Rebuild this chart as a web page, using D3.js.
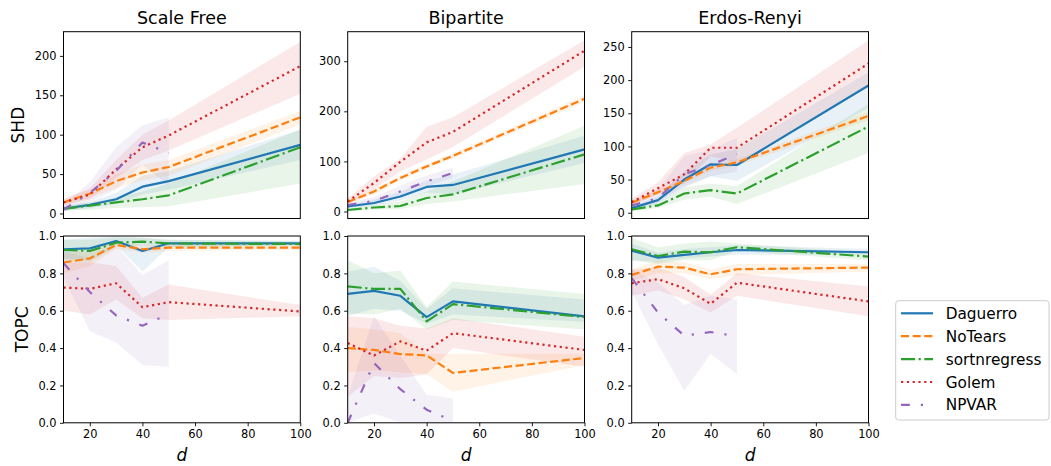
<!DOCTYPE html>
<html><head><meta charset="utf-8">
<script src="https://cdn.jsdelivr.net/npm/d3@7"></script>
<style>body{margin:0;background:#fff} svg{display:block} text{font-family:"DejaVu Sans",sans-serif;fill:#000}</style>
</head><body><svg id="chart" width="1051" height="466"></svg>
<script>
// ---------- data ----------
const dValues = [10, 20, 30, 40, 50, 100];
const dValuesNpvar = [10, 20, 30, 40, 50];
const methods = ["Daguerro", "NoTears", "sortnregress", "Golem", "NPVAR"];
const graphTypes = ["Scale Free", "Bipartite", "Erdos-Renyi"];
const metrics = ["SHD", "TOPC"];
const xTicks = [20, 40, 60, 80, 100];
const shdTicksSF = [0, 50, 100, 150, 200];
const shdTicksBP = [0, 100, 200, 300];
const shdTicksER = [0, 50, 100, 150, 200, 250];
const topcTicks = [0.0, 0.2, 0.4, 0.6, 0.8, 1.0];
const shdLimitsSF = [-6.4, 230.7];
const shdLimitsBP = [-14, 359];
const shdLimitsER = [-8.7, 273];
const topcLimits = [0, 1];
const dLimits = [10, 100];

// Scale Free SHD (rows follow `methods`)
const sfShdMean = [[6,11,18,34,41,87],[14,25,41,52,59,122],[6,10,14,18,23,84],[14,24,56,84,99,187],[5,26,54,90,77]];
const sfShdLo   = [[3,7,12,24,30,68],[10,20,32,42,48,113],[3,5,7,8,9,38],[10,18,45,68,80,152],[2,15,30,62,35]];
const sfShdHi   = [[9,15,26,48,54,106],[18,30,50,62,68,130],[9,14,20,28,38,107],[18,32,68,100,118,218],[10,40,84,112,122]];
// Bipartite SHD
const bpShdMean = [[10,17,30,49,53,124],[19,40,67,90,111,225],[3,8,11,27,34,114],[20,57,99,138,159,321],[13,21,40,60,77]];
const bpShdLo   = [[6,12,22,38,34,97],[15,35,62,85,106,218],[1,4,5,15,20,55],[15,45,80,104,129,289],[8,15,30,50,68]];
const bpShdHi   = [[14,24,40,62,74,151],[23,45,72,95,116,232],[6,14,20,40,60,171],[26,70,106,169,188,342],[18,28,52,72,88]];
// Erdos-Renyi SHD
const erShdMean = [[7,19,50,73,72,192],[15,31,48,68,76,146],[5,11,29,34,29,130],[16,37,58,98,98,225],[11,22,58,72,88]];
const erShdLo   = [[4,14,38,55,48,158],[11,27,44,63,71,140],[2,7,20,24,13,90],[11,28,45,85,75,190],[6,15,40,55,62]];
const erShdHi   = [[10,25,62,88,96,212],[19,35,52,73,81,152],[8,15,38,44,40,164],[21,46,90,103,128,260],[16,35,85,95,113]];
// Scale Free TOPC
const sfTopcMean = [[0.929,0.934,0.973,0.92,0.961,0.961],[0.858,0.88,0.952,0.929,0.938,0.938],[0.925,0.92,0.964,0.97,0.96,0.957],[0.724,0.717,0.747,0.619,0.646,0.596],[0.854,0.70,0.575,0.52,0.582]];
const sfTopcLo   = [[0.88,0.87,0.95,0.81,0.94,0.95],[0.80,0.84,0.93,0.91,0.92,0.925],[0.87,0.86,0.94,0.95,0.94,0.945],[0.60,0.58,0.66,0.56,0.55,0.57],[0.78,0.49,0.43,0.31,0.30]];
const sfTopcHi   = [[0.98,0.99,1.0,0.99,0.98,0.975],[0.91,0.92,0.97,0.95,0.955,0.95],[0.98,0.98,0.99,0.99,0.98,0.97],[0.86,0.86,0.84,0.67,0.74,0.63],[0.92,0.88,0.95,0.79,0.87]];
// Bipartite TOPC
const bpTopcMean = [[0.69,0.706,0.68,0.566,0.65,0.57],[0.40,0.39,0.368,0.361,0.267,0.347],[0.73,0.717,0.717,0.543,0.635,0.566],[0.427,0.36,0.436,0.386,0.48,0.39],[0.0,0.32,0.18,0.07,0.01]];
const bpTopcLo   = [[0.57,0.61,0.60,0.53,0.58,0.54],[0.27,0.28,0.27,0.26,0.166,0.31],[0.585,0.58,0.61,0.50,0.55,0.50],[0.14,0.25,0.24,0.26,0.40,0.30],[0.0,0.05,0.0,0.0,0.0]];
const bpTopcHi   = [[0.81,0.836,0.76,0.61,0.72,0.66],[0.514,0.50,0.48,0.37,0.37,0.37],[0.87,0.80,0.815,0.62,0.756,0.69],[0.57,0.56,0.52,0.505,0.56,0.46],[0.14,0.57,0.36,0.15,0.13]];
// Erdos-Renyi TOPC
const erTopcMean = [[0.922,0.884,0.899,0.913,0.925,0.913],[0.792,0.836,0.831,0.795,0.822,0.831],[0.929,0.893,0.916,0.913,0.94,0.89],[0.747,0.769,0.72,0.637,0.75,0.65],[0.774,0.59,0.466,0.486,0.463]];
const erTopcLo   = [[0.87,0.86,0.88,0.89,0.90,0.90],[0.76,0.80,0.80,0.77,0.79,0.81],[0.87,0.85,0.87,0.87,0.92,0.87],[0.68,0.71,0.66,0.59,0.68,0.57],[0.70,0.42,0.17,0.37,0.26]];
const erTopcHi   = [[0.96,0.91,0.93,0.94,0.95,0.93],[0.82,0.87,0.86,0.82,0.85,0.85],[0.99,0.94,0.96,0.97,0.96,0.91],[0.82,0.83,0.78,0.685,0.80,0.73],[0.82,0.75,0.63,0.68,0.66]];

// ---------- styles ----------
const colors = ["#1f77b4", "#ff7f0e", "#2ca02c", "#d62728", "#9467bd"];
const dashes = [null, "8.1,3.5", "14.1,3.5,2.2,3.5", "2.2,3.6", "8.8,11,2.2,11"];
const LW = 2.2;

const panels = [
  {row:0,col:0,mean:sfShdMean,lo:sfShdLo,hi:sfShdHi,lim:shdLimitsSF,ticks:shdTicksSF,fmt:d3.format("d")},
  {row:0,col:1,mean:bpShdMean,lo:bpShdLo,hi:bpShdHi,lim:shdLimitsBP,ticks:shdTicksBP,fmt:d3.format("d")},
  {row:0,col:2,mean:erShdMean,lo:erShdLo,hi:erShdHi,lim:shdLimitsER,ticks:shdTicksER,fmt:d3.format("d")},
  {row:1,col:0,mean:sfTopcMean,lo:sfTopcLo,hi:sfTopcHi,lim:topcLimits,ticks:topcTicks,fmt:d3.format(".1f")},
  {row:1,col:1,mean:bpTopcMean,lo:bpTopcLo,hi:bpTopcHi,lim:topcLimits,ticks:topcTicks,fmt:d3.format(".1f")},
  {row:1,col:2,mean:erTopcMean,lo:erTopcLo,hi:erTopcHi,lim:topcLimits,ticks:topcTicks,fmt:d3.format(".1f")}
];

const colLeft = [63.5, 347.7, 631.7];
const panelW = 236.8;
const rowTop = [31.7, 236.0];
const panelH = 186.8;
const tickFont = 11.4;

const svg = d3.select("#chart");
const defs = svg.append("defs");

panels.forEach((p, i) => {
  const x0 = colLeft[p.col], y0 = rowTop[p.row];
  const x = d3.scaleLinear().domain(dLimits).range([x0, x0 + panelW]);
  const y = d3.scaleLinear().domain(p.lim).range([y0 + panelH, y0]);
  const cid = "clip" + i;
  defs.append("clipPath").attr("id", cid).append("rect")
    .attr("x", x0).attr("y", y0).attr("width", panelW).attr("height", panelH);
  const g = svg.append("g");
  const plot = g.append("g").attr("clip-path", `url(#${cid})`);

  const series = methods.map((m, k) => {
    const ds = k === 4 ? dValuesNpvar : dValues;
    return ds.map((d, j) => ({d, v: p.mean[k][j], lo: p.lo[k][j], hi: p.hi[k][j]}));
  });
  const area = d3.area().x(d => x(d.d)).y0(d => y(d.lo)).y1(d => y(d.hi));
  const line = d3.line().x(d => x(d.d)).y(d => y(d.v));
  series.forEach((s, k) => {
    plot.append("path").attr("d", area(s)).attr("fill", colors[k]).attr("fill-opacity", 0.1).attr("stroke", "none");
  });
  series.forEach((s, k) => {
    const path = plot.append("path").attr("d", line(s)).attr("fill", "none")
      .attr("stroke", colors[k]).attr("stroke-width", LW).attr("stroke-linejoin", "round");
    if (dashes[k]) path.attr("stroke-dasharray", dashes[k]).attr("stroke-linecap", "butt");
  });

  // y axis
  const yAxis = d3.axisLeft(y).tickValues(p.ticks).tickFormat(p.fmt).tickSize(3.5).tickPadding(3.5);
  const ya = g.append("g").attr("transform", `translate(${x0},0)`).call(yAxis);
  ya.select(".domain").remove();
  ya.selectAll("line").attr("stroke", "#000").attr("stroke-width", 0.9);
  ya.selectAll("text").attr("font-size", tickFont).attr("font-family", "DejaVu Sans").attr("fill", "#000");

  if (p.row === 1) {
    const xAxis = d3.axisBottom(x).tickValues(xTicks).tickFormat(d3.format("d")).tickSize(3.5).tickPadding(3.5);
    const xa = g.append("g").attr("transform", `translate(0,${y0 + panelH})`).call(xAxis);
    xa.select(".domain").remove();
    xa.selectAll("line").attr("stroke", "#000").attr("stroke-width", 0.9);
    xa.selectAll("text").attr("font-size", tickFont).attr("font-family", "DejaVu Sans").attr("fill", "#000");
    g.append("text").attr("x", x0 + panelW / 2).attr("y", 461).attr("text-anchor", "middle")
      .attr("font-size", 17).attr("font-style", "italic").text("d");
  } else {
    g.append("text").attr("x", x0 + panelW / 2).attr("y", 24).attr("text-anchor", "middle")
      .attr("font-size", 17.5).text(graphTypes[p.col]);
  }
  if (p.col === 0) {
    const bb = ya.node().getBBox();
    const cx = x0 + bb.x - 10.5, cy = y0 + panelH / 2;
    g.append("text").attr("transform", `translate(${cx},${cy}) rotate(-90)`)
      .attr("text-anchor", "middle").attr("font-size", 17).text(metrics[p.row]);
  }
  // frame
  g.append("rect").attr("x", x0).attr("y", y0).attr("width", panelW).attr("height", panelH)
    .attr("fill", "none").attr("stroke", "#000").attr("stroke-width", 1);
});

// ---------- legend ----------
const lg = svg.append("g");
lg.append("rect").attr("x", 895.7).attr("y", 300.7).attr("width", 153.3).attr("height", 119.3)
  .attr("rx", 3).attr("fill", "#fff").attr("fill-opacity", 0.8).attr("stroke", "#cccccc").attr("stroke-width", 1);
methods.forEach((m, k) => {
  const ly = 313.3 + k * 22.9;
  const l = lg.append("line").attr("x1", 901).attr("x2", 933).attr("y1", ly).attr("y2", ly)
    .attr("stroke", colors[k]).attr("stroke-width", LW);
  if (dashes[k]) l.attr("stroke-dasharray", dashes[k]);
  lg.append("text").attr("x", 945.7).attr("y", ly + 5.5).attr("font-size", 15.3).text(m);
});
</script></body></html>
